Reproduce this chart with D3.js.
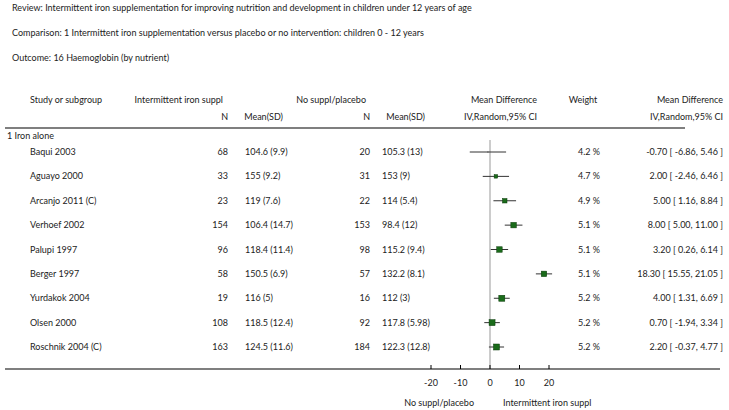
<!DOCTYPE html><html><head><meta charset="utf-8"><script src="https://cdn.jsdelivr.net/npm/d3@7"></script>
<style>body{margin:0;background:#fff}text{font-family:Lato,"Open Sans",sans-serif;font-size:9px;fill:#222}</style></head><body><svg id="c" width="729" height="410"></svg><script>
const studies=["Baqui 2003","Aguayo 2000","Arcanjo 2011 (C)","Verhoef 2002","Palupi 1997","Berger 1997","Yurdakok 2004","Olsen 2000","Roschnik 2004 (C)"];
const n1=[68,33,23,154,96,58,19,108,163];
const mean1=["104.6 (9.9)","155 (9.2)","119 (7.6)","106.4 (14.7)","118.4 (11.4)","150.5 (6.9)","116 (5)","118.5 (12.4)","124.5 (11.6)"];
const n2=[20,31,22,153,98,57,16,92,184];
const mean2=["105.3 (13)","153 (9)","114 (5.4)","98.4 (12)","115.2 (9.4)","132.2 (8.1)","112 (3)","117.8 (5.98)","122.3 (12.8)"];
const md=[-0.70,2.00,5.00,8.00,3.20,18.30,4.00,0.70,2.20];
const lo=[-6.86,-2.46,1.16,5.00,0.26,15.55,1.31,-1.94,-0.37];
const hi=[5.46,6.46,8.84,11.00,6.14,21.05,6.69,3.34,4.77];
const weight=[4.2,4.7,4.9,5.1,5.1,5.1,5.2,5.2,5.2];
const ticks=[-20,-10,0,10,20];
const svg=d3.select("#c");
const T=(x,y,s,a)=>svg.append("text").attr("x",x).attr("y",y).attr("text-anchor",a||"start").text(s);
T(12,11,"Review:   Intermittent iron supplementation for improving nutrition and development in children under 12 years of age");
T(12,36,"Comparison:   1 Intermittent iron supplementation versus placebo or no intervention: children 0 - 12 years");
T(12,61,"Outcome:   16 Haemoglobin (by nutrient)");
T(30,103,"Study or subgroup");T(223,103,"Intermittent iron suppl","end");T(366,103,"No suppl/placebo","end");
T(537,103,"Mean Difference","end");T(583,103,"Weight","middle");T(723,103,"Mean Difference","end");
T(228,120,"N","end");T(283,120,"Mean(SD)","end");T(370,120,"N","end");T(425,120,"Mean(SD)","end");
T(537,120,"IV,Random,95% CI","end");T(723,120,"IV,Random,95% CI","end");
svg.append("line").attr("x1",5).attr("x2",685).attr("y1",128).attr("y2",128).attr("stroke","#000").attr("stroke-width",1.2);
T(7,139,"1 Iron alone");
const x=d3.scaleLinear().domain([-20,20]).range([431,549]);
const y=d3.scaleLinear().domain([0,8]).range([152,347]);
const bs=d3.scaleLinear().domain([4.2,5.2]).range([1,6]);
svg.append("line").attr("x1",x(0)).attr("x2",x(0)).attr("y1",140).attr("y2",369).attr("stroke","#999");
studies.forEach((s,i)=>{const yy=y(i);
T(30,yy+3,s);T(228,yy+3,n1[i],"end");T(245,yy+3,mean1[i]);T(370,yy+3,n2[i],"end");T(382,yy+3,mean2[i]);
T(600,yy+3,weight[i].toFixed(1)+" %","end");
T(723,yy+3,md[i].toFixed(2)+" [ "+lo[i].toFixed(2)+", "+hi[i].toFixed(2)+" ]","end");
svg.append("line").attr("x1",x(lo[i])).attr("x2",x(hi[i])).attr("y1",yy).attr("y2",yy).attr("stroke","#333");
const b=bs(weight[i]);
svg.append("rect").attr("x",x(md[i])-b/2).attr("y",yy-b/2).attr("width",b).attr("height",b).attr("fill",b>3?"#1a6b1a":"#333").attr("stroke",b>3?"#0a3a0a":"none").attr("stroke-width",0.5);
});
svg.append("line").attr("x1",5).attr("x2",720).attr("y1",369).attr("y2",369).attr("stroke","#000").attr("stroke-width",1.2);
const g=svg.append("g").attr("transform","translate(0,369)");
ticks.forEach(t=>{g.append("line").attr("x1",x(t)).attr("x2",x(t)).attr("y1",0).attr("y2",-4).attr("stroke","#000");
g.append("text").attr("x",x(t)).attr("y",17).attr("text-anchor","middle").text(t);});
T(474,406,"No suppl/placebo","end");T(503,406,"Intermittent iron suppl");
</script></body></html>
